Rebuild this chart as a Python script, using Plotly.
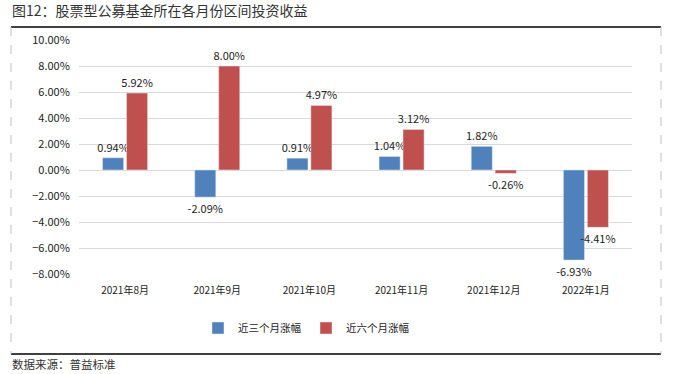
import plotly.graph_objects as go

categories = ["2021年8月", "2021年9月", "2021年10月", "2021年11月", "2021年12月", "2022年1月"]
series_names = ["近三个月涨幅", "近六个月涨幅"]
three_month = [0.94, -2.09, 0.91, 1.04, 1.82, -6.93]
six_month = [5.92, 8.00, 4.97, 3.12, -0.26, -4.41]
colors = ["#4F81BD", "#C0504D"]

FONT = "Noto Sans CJK SC"
L, R, T, B = 79, 632, 40, 274
PW, PH = R - L, B - T

def px(x):
    return (x - L) / PW

def py(y):
    return (B - y) / PH

fig = go.Figure()
for name, vals, c in zip(series_names, [three_month, six_month], colors):
    fig.add_trace(go.Bar(
        x=categories, y=vals, name=name, marker_color=c,
        text=vals, texttemplate="%{y:.2f}%", textposition="outside",
        constraintext="none",
        textfont=dict(size=11, color="#222222", family=FONT),
        cliponaxis=False,
    ))

fig.update_layout(
    width=675, height=374,
    margin=dict(l=L, r=675 - R, t=T, b=374 - B),
    paper_bgcolor="white", plot_bgcolor="white",
    barmode="group", bargap=0.48, bargroupgap=0.12,
    font=dict(family=FONT, size=11, color="#222222"),
    showlegend=True,
    legend=dict(orientation="h", x=px(198), y=py(328), xanchor="left", yanchor="middle",
                font=dict(size=10.5, color="#222222"), itemwidth=30,
                traceorder="normal"),
    xaxis=dict(showgrid=False, showline=False, ticks="outside", ticklen=7,
               tickcolor="rgba(0,0,0,0)", tickfont=dict(size=10)),
    yaxis=dict(range=[-8, 10], dtick=2, tickformat=".2f", ticksuffix="%",
               showgrid=True, gridcolor="#D9D9D9", gridwidth=1,
               zeroline=True, zerolinecolor="#D9D9D9", zerolinewidth=1,
               tickfont=dict(size=11), ticks="outside", ticklen=6,
               tickcolor="rgba(0,0,0,0)"),
    annotations=[
        dict(text="图12：股票型公募基金所在各月份区间投资收益", xref="paper", yref="paper",
             x=px(10), y=py(10), xanchor="left", yanchor="middle",
             showarrow=False, font=dict(size=14, color="#333333", family=FONT)),
        dict(text="数据来源：普益标准", xref="paper", yref="paper",
             x=px(10), y=py(364), xanchor="left", yanchor="middle",
             showarrow=False, font=dict(size=11.5, color="#333333", family=FONT)),
    ],
    shapes=[
        dict(type="line", xref="paper", yref="paper", x0=px(11), x1=px(661),
             y0=py(27), y1=py(27), line=dict(color="black", width=1.5)),
        dict(type="line", xref="paper", yref="paper", x0=px(11), x1=px(661),
             y0=py(354), y1=py(354), line=dict(color="black", width=1.5)),
        dict(type="line", xref="paper", yref="paper", x0=px(11), x1=px(11),
             y0=py(27), y1=py(354), line=dict(color="#BFBFBF", width=1, dash="dash")),
        dict(type="line", xref="paper", yref="paper", x0=px(661), x1=px(661),
             y0=py(27), y1=py(354), line=dict(color="#BFBFBF", width=1, dash="dash")),
    ],
)

fig.write_html("out.html", config={"displayModeBar": False},
               post_script="document.body.style.margin='0';document.body.style.overflow='hidden';")
